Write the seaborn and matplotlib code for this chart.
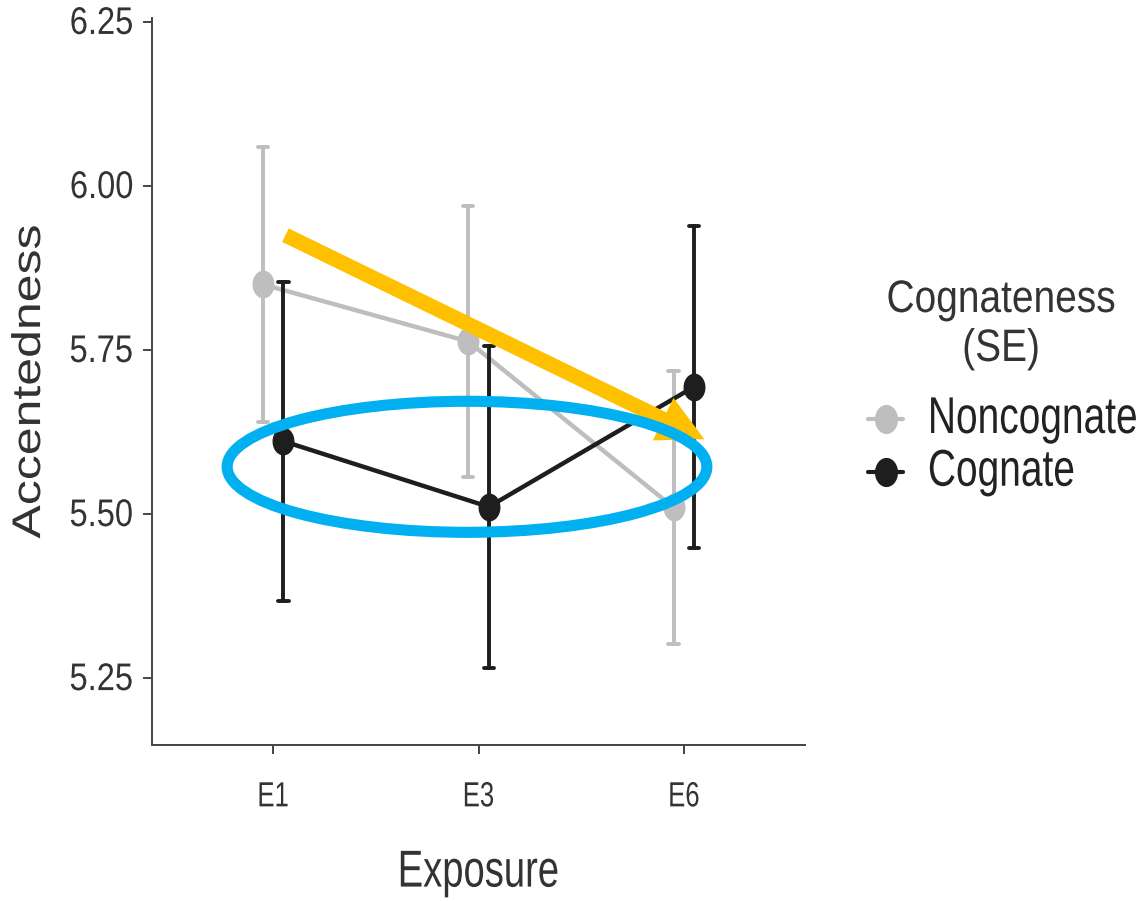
import numpy as np
import pandas as pd
import matplotlib
matplotlib.use("Agg")
import matplotlib.pyplot as plt
import seaborn as sns
from matplotlib.lines import Line2D
from matplotlib.path import Path
from matplotlib.transforms import Affine2D
from matplotlib.patheffects import AbstractPathEffect
from matplotlib.patches import Ellipse, FancyArrowPatch

# ---- data ----
exposure = ["E1", "E3", "E6"]
groups = ["Noncognate", "Cognate"]
noncog_mean = [5.85, 5.763, 5.51]
noncog_se = [0.21, 0.207, 0.208]
cog_mean = [5.611, 5.511, 5.694]
cog_se = [0.243, 0.245, 0.245]
yticks = [5.25, 5.50, 5.75, 6.00, 6.25]

palette = {"Noncognate": "#BEBEBE", "Cognate": "#1E1E1E"}

# long table: mean-se, mean, mean+se per cell -> median = mean, range = +-SE
rows = []
for g, means, ses in [("Noncognate", noncog_mean, noncog_se), ("Cognate", cog_mean, cog_se)]:
    for e, m, s in zip(exposure, means, ses):
        for v in (m - s, m, m + s):
            rows.append({"Exposure": e, "Cognateness": g, "Accentedness": v})
df = pd.DataFrame(rows)


class VStretch(AbstractPathEffect):
    """Stretch glyphs along their local vertical axis (the reference text is tall/narrow)."""
    def __init__(self, sy):
        super().__init__()
        self.sy = sy

    def draw_path(self, renderer, gc, tpath, affine, rgbFace=None):
        renderer.draw_path(gc, tpath, Affine2D().scale(1.0, self.sy) + affine, rgbFace)


# slightly tall elliptical marker, as in the reference
_t = np.linspace(0, 2 * np.pi, 64)
ell_marker = Path(np.c_[0.79 * np.cos(_t), np.sin(_t)], closed=True)

sns.set_theme(style="ticks")
plt.rcParams["font.family"] = ["Liberation Sans", "DejaVu Sans"]

fig = plt.figure(figsize=(11.45, 9.01), dpi=100)
ax = fig.add_axes([152 / 1145, 1 - 745 / 901, (805 - 152) / 1145, (745 - 18) / 901])

sns.pointplot(
    data=df, x="Exposure", y="Accentedness", hue="Cognateness",
    order=exposure, hue_order=groups, palette=palette,
    estimator="median", errorbar=lambda v: (v.min(), v.max()),
    dodge=0.1, capsize=0.05, markers=[ell_marker, ell_marker], linestyles="-",
    markersize=20, markeredgewidth=0, linewidth=3.2, err_kws={"linewidth": 2.8},
    legend=False, ax=ax,
)

ax.set_xlim(-0.59, 2.59)
ax.set_ylim(5.148, 6.256)
ax.set_yticks(yticks)
ax.set_yticklabels([f"{t:.2f}" for t in yticks])
sns.despine(ax=ax)
for sp in ("left", "bottom"):
    ax.spines[sp].set_color("#444444")
    ax.spines[sp].set_linewidth(1.4)
ax.tick_params(axis="both", length=6.5, width=1.4, color="#444444", labelcolor="#333333")
ax.tick_params(axis="y", labelsize=23.5, pad=7)
ax.tick_params(axis="x", labelsize=18.5, pad=24)
for t in ax.get_yticklabels():
    t.set_path_effects([VStretch(1.18)])
for t in ax.get_xticklabels():
    t.set_path_effects([VStretch(1.36)])
ax.set_xlabel("Exposure", fontsize=27.5, color="#333333", labelpad=34)
ax.xaxis.label.set_path_effects([VStretch(1.36)])
ax.set_ylabel("Accentedness", fontsize=36, color="#333333", labelpad=14)
ax.yaxis.label.set_path_effects([VStretch(0.8)])

# ---- overlay annotations ----
arrow = FancyArrowPatch((0.06, 5.925), (2.10, 5.614),
                        arrowstyle="simple,head_length=33,head_width=34,tail_width=10.8",
                        mutation_scale=1, color="#FFC000", lw=0,
                        shrinkA=0, shrinkB=0, zorder=6)
ax.add_patch(arrow)
ell = Ellipse((0.944, 5.572), 2.336, 0.1997, fill=False,
              edgecolor="#00B0F0", lw=8, zorder=7)
ax.add_patch(ell)

# ---- legend ----
handles = [Line2D([0], [0], color=palette[g], marker=ell_marker, markersize=21,
                  markeredgewidth=0, linewidth=3) for g in groups]
leg = fig.legend(handles, groups, loc="upper left",
                 bbox_to_anchor=(868 / 1145, 1 - 405 / 901),
                 frameon=False, fontsize=28, borderpad=0, borderaxespad=0,
                 handlelength=0.9, handletextpad=0.64, labelspacing=0.43)
for t in leg.get_texts():
    t.set_color("#222222")
    t.set_path_effects([VStretch(1.33)])
for txt, yb in [("Cognateness", 312), ("(SE)", 361)]:
    fig.text(1001 / 1145, 1 - yb / 901, txt, ha="center", va="baseline",
             fontsize=28, color="#333333", path_effects=[VStretch(1.17)])

fig.savefig("out.png", dpi=100)
